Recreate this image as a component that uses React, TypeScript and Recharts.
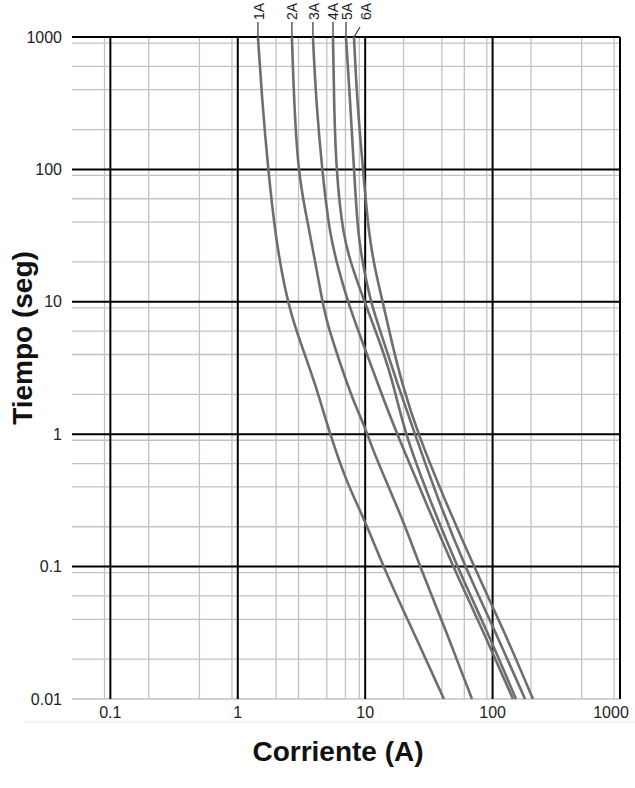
import React from 'react';
import { LineChart, Line, XAxis, YAxis, CartesianGrid } from 'recharts';

// fuse time-current curves, [current A, time s]
const curve1A = [
  [1.44, 1000], [1.55, 339], [1.73, 100], [1.99, 29.5], [2.35, 12.3], [2.66, 7.7], [3.19, 4.56],
  [4.04, 2.44], [5.29, 1], [7.2, 0.425], [9.96, 0.223], [14.3, 0.093], [23.7, 0.0327], [41.5, 0.01],
];
const curve2A = [
  [2.66, 1000], [2.76, 339], [2.97, 100], [3.37, 49.8], [3.89, 24.8], [4.58, 10.4], [5.01, 6.93],
  [6.34, 3.45], [8.02, 1.81], [9.96, 1.13], [11.5, 0.756], [15.7, 0.376], [21.3, 0.187], [26.9, 0.1],
  [43.1, 0.0327], [68.9, 0.01],
];
const curve3A = [
  [3.89, 1000], [4.11, 339], [4.58, 100], [5.29, 31.1], [6.2, 17.5], [7.33, 9.8], [10.5, 3.83],
  [14.3, 1.72], [17.8, 1], [29.5, 0.316], [48.9, 0.1], [84.1, 0.0327], [144.6, 0.01],
];
const curve4A = [
  [5.59, 1000], [5.69, 339], [5.9, 100], [6.7, 31.1], [8.02, 17.5], [9.96, 9.8], [12.6, 5.43],
  [16.2, 2.7], [20.5, 1], [32.3, 0.316], [52.6, 0.1], [90.4, 0.0327], [152.7, 0.01],
];
const curve5A = [
  [7.07, 1000], [7.6, 339], [8.17, 100], [8.78, 31.1], [9.79, 17.5], [11.1, 9.8], [13.6, 5.43],
  [18.1, 2.33], [24.6, 1], [37.5, 0.316], [60.7, 0.1], [104.4, 0.0327], [179.6, 0.01],
];
const curve6A = [
  [8.17, 1000], [8.62, 339], [9.61, 100], [10.7, 31.1], [12.2, 16], [13.8, 9.8], [16.2, 4.89],
  [19.8, 2.27], [26, 1], [42.3, 0.316], [71.4, 0.1], [123, 0.0327], [207.6, 0.01],
];

const ratings = ['1A', '2A', '3A', '4A', '5A', '6A'];
const curves = [curve1A, curve2A, curve3A, curve4A, curve5A, curve6A];

const xTicks = [0.1, 1, 10, 100, 1000];
const yTicks = [0.01, 0.1, 1, 10, 100, 1000];
const decadeBases = [0.01, 0.1, 1, 10, 100];
const minorSteps = [2, 3, 4, 5, 6, 7, 8, 9];

const majorLines = [0.1, 1, 10, 100, 1000];
const minorX = decadeBases.flatMap(b => minorSteps.map(m => b * m)).filter(v => v >= 0.05);
const minorY = [0.01, ...decadeBases.flatMap(b => minorSteps.map(m => b * m))];

// label leader offsets (only 6A is bent sideways)
const leaderDx = [0, 0, 0, 0, 0, 6];
const leaderDy = [15, 15, 15, 15, 15, 10];
const textDx = [1, 0, 1, 0, 1, 12];

const font = '"Liberation Sans", Arial, sans-serif';

const makeTag = (name: string, k: number) => (props: any) => {
  const { cx, cy, index } = props;
  if (index !== 0) return <g key={`${name}-${index}`} />;
  const lx = cx + leaderDx[k];
  const ly = cy - leaderDy[k];
  const tx = cx + textDx[k];
  return (
    <g key={`${name}-tag`}>
      <line x1={cx} y1={cy} x2={lx} y2={ly} stroke="#333" strokeWidth={1.2} />
      <text
        transform={`translate(${tx + 5},${cy - 17}) rotate(-90)`}
        fontSize={14}
        fill="#222"
        fontFamily={font}
      >
        {name}
      </text>
    </g>
  );
};

// x tick: pull the last label in so it stays inside the page
const XTick = (props: any) => {
  const { x, y, payload } = props;
  const shift = payload.value === 1000 ? -8 : 0;
  return (
    <text x={x + shift} y={y} dy="0.71em" textAnchor="middle" fontSize={16} fill="#222" fontFamily={font}>
      {String(payload.value)}
    </text>
  );
};

export default function App() {
  return (
    <div style={{ position: 'absolute', left: 0, top: 0, width: 635, height: 788, background: '#fff' }}>
      <LineChart width={635} height={788} margin={{ top: 37, right: 15, bottom: 59, left: 0 }}>
        <CartesianGrid
          horizontalValues={minorY}
          verticalValues={minorX}
          stroke="#c2c2c2"
          strokeWidth={1.3}
        />
        <CartesianGrid
          horizontalValues={majorLines}
          verticalValues={majorLines}
          stroke="#000"
          strokeWidth={2}
        />
        <XAxis
          dataKey="i"
          type="number"
          scale="log"
          domain={[0.05, 1000]}
          ticks={xTicks}
          axisLine={false}
          tickLine={false}
          tickMargin={2}
          height={30}
          tick={<XTick />}
        />
        <YAxis
          dataKey="t"
          type="number"
          scale="log"
          domain={[0.01, 1000]}
          ticks={yTicks}
          tickFormatter={v => String(v)}
          axisLine={false}
          tickLine={false}
          tickMargin={4}
          width={72}
          tick={{ fill: '#222', fontSize: 16, fontFamily: font }}
        />
        {curves.map((c, k) => (
          <Line
            key={ratings[k]}
            data={c.map(([i, t]) => ({ i, t }))}
            dataKey="t"
            type="basis"
            stroke="#6e6e6e"
            strokeWidth={2.6}
            dot={makeTag(ratings[k], k)}
            activeDot={false}
            isAnimationActive={false}
          />
        ))}
      </LineChart>
      <svg
        width={635}
        height={788}
        style={{ position: 'absolute', left: 0, top: 0, pointerEvents: 'none' }}
      >
        <line x1={24} y1={722} x2={635} y2={722} stroke="#ececec" strokeWidth={1} />
        <text x={338} y={761} textAnchor="middle" fontSize={28} fontWeight="bold" fill="#111" fontFamily={font}>
          Corriente (A)
        </text>
        <text
          transform="translate(32,338) rotate(-90)"
          textAnchor="middle"
          fontSize={28}
          fontWeight="bold"
          fill="#111"
          fontFamily={font}
        >
          Tiempo (seg)
        </text>
      </svg>
    </div>
  );
}
